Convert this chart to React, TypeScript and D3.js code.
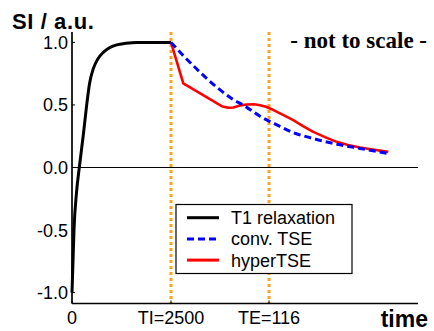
import * as d3 from 'd3';

// data units along x are arbitrary ("not to scale")
const xMax = 346;
const yLow = -1.087;
const yHigh = 1.083;

const xTickValues = [0, 99, 197];
const xTickLabels = ['0', 'TI=2500', 'TE=116'];
const yTickValues = [1.0, 0.5, 0.0, -0.5, -1.0];
const yTickLabels = ['1.0', '0.5', '0.0', '-0.5', '-1.0'];
const markerTimes = [99, 197];

const t1Relaxation: [number, number][] = [
  [0, -1.0], [0.8, -0.8], [2, -0.5], [4.5, -0.2], [7.3, 0.0], [11.3, 0.26], [14.7, 0.5],
  [17.5, 0.67], [21.3, 0.79], [26, 0.87], [31.3, 0.92], [37, 0.955], [44.7, 0.98],
  [54, 0.993], [64.7, 1.0], [80, 1.0], [99, 1.0],
];

const convTSE: [number, number][] = [
  [99, 1.0], [113, 0.88], [127, 0.77], [145, 0.64], [160, 0.55], [173, 0.49], [188, 0.41],
  [197, 0.37], [205, 0.34], [221, 0.28], [241, 0.232], [265, 0.186], [288, 0.152], [316, 0.112],
];

const hyperTSE: [number, number][] = [
  [99, 1.0], [111.3, 0.672], [149.7, 0.49], [156, 0.478], [161.3, 0.48], [168, 0.495],
  [174.7, 0.504], [182, 0.505], [188, 0.498], [194, 0.485], [199.7, 0.466], [206, 0.44],
  [213, 0.413], [221.3, 0.378], [231, 0.33], [241.3, 0.285], [253, 0.243], [264.7, 0.205],
  [276, 0.18], [288, 0.16], [302, 0.142], [316.3, 0.125],
];

const legendItems = [
  { label: 'T1 relaxation', color: '#000000', dash: '' },
  { label: 'conv. TSE', color: '#0000ff', dash: '7,4' },
  { label: 'hyperTSE', color: '#ff0000', dash: '' },
];

const sans = 'Liberation Sans, Arial, Helvetica, sans-serif';
const serif = 'Liberation Serif, Times New Roman, serif';

export default function App() {
  const width = 434;
  const height = 331;
  const left = 72;
  const right = 418;
  const top = 32;
  const bottom = 303.5;

  const x = d3.scaleLinear().domain([0, xMax]).range([left, right]);
  const y = d3.scaleLinear().domain([yLow, yHigh]).range([bottom, top]);

  const smooth = d3
    .line<[number, number]>()
    .x((d) => x(d[0]))
    .y((d) => y(d[1]))
    .curve(d3.curveMonotoneX);
  const blackPath = smooth(t1Relaxation) || '';
  const bluePath = smooth(convTSE) || '';
  const redPath = d3
    .line<[number, number]>()
    .x((d) => x(d[0]))
    .y((d) => y(d[1]))
    .curve(d3.curveLinear)(hyperTSE) || '';

  const lgX = 176;
  const lgY = 204.5;
  const lgW = 176;
  const lgH = 69;

  return (
    <svg
      width={width}
      height={height}
      style={{ position: 'absolute', left: 0, top: 0, background: '#fff' }}
    >
      {/* title */}
      <text x={12} y={28.5} fontFamily={sans} fontWeight="bold" fontSize={22} letterSpacing={0.6}>
        SI / a.u.
      </text>
      <text x={427} y={48} textAnchor="end" fontFamily={serif} fontWeight="bold" fontSize={23}>
        - not to scale -
      </text>

      {/* zero line */}
      <line x1={left} x2={right} y1={y(0)} y2={y(0)} stroke="#000" strokeWidth={1} />

      {/* orange markers */}
      {markerTimes.map((t) => (
        <line
          key={t}
          x1={x(t)}
          x2={x(t)}
          y1={top}
          y2={bottom}
          stroke="#ffa01e"
          strokeWidth={3}
          strokeDasharray="3,3"
        />
      ))}

      {/* curves */}
      <path d={blackPath} fill="none" stroke="#000" strokeWidth={3} />
      <path d={redPath} fill="none" stroke="#ff0000" strokeWidth={2.6} strokeLinejoin="round" />
      <path d={bluePath} fill="none" stroke="#0000ff" strokeWidth={3} strokeDasharray="7,4" />

      {/* axes */}
      <line x1={left} x2={left} y1={top} y2={bottom} stroke="#000" strokeWidth={1.7} />
      <line x1={left} x2={right} y1={bottom} y2={bottom} stroke="#000" strokeWidth={1.7} />

      {yTickValues.map((v, i) => (
        <g key={v}>
          <line x1={left} x2={left + 3} y1={y(v)} y2={y(v)} stroke="#000" strokeWidth={1} />
          <text
            x={68}
            y={y(v)}
            dy="0.36em"
            textAnchor="end"
            fontFamily={sans}
            fontSize={18}
          >
            {yTickLabels[i]}
          </text>
        </g>
      ))}

      {xTickValues.map((v, i) => (
        <g key={v}>
          <line x1={x(v)} x2={x(v)} y1={bottom} y2={bottom - 3} stroke="#000" strokeWidth={1} />
          <text x={x(v)} y={324} textAnchor="middle" fontFamily={sans} fontSize={18}>
            {xTickLabels[i]}
          </text>
        </g>
      ))}

      <text x={428} y={326.5} textAnchor="end" fontFamily={sans} fontWeight="bold" fontSize={23}>
        time
      </text>

      {/* legend */}
      <rect x={lgX} y={lgY} width={lgW} height={lgH} fill="#fff" stroke="#000" strokeWidth={1.2} />
      {legendItems.map((it, i) => {
        const ry = 217.7 + i * 21.2;
        return (
          <g key={it.label}>
            <line
              x1={187}
              x2={219}
              y1={ry}
              y2={ry}
              stroke={it.color}
              strokeWidth={3}
              strokeDasharray={it.dash || undefined}
            />
            <text x={231} y={ry + 6.5} fontFamily={sans} fontSize={18}>
              {it.label}
            </text>
          </g>
        );
      })}
    </svg>
  );
}
